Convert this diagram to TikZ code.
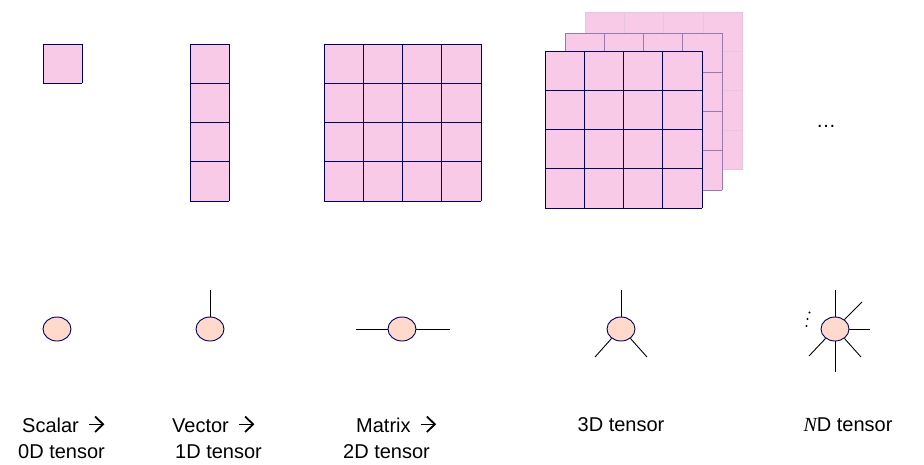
\documentclass[tikz,border=0pt]{standalone}
\usepackage{fontspec}
\setmainfont{Liberation Sans}
\newfontfamily\serifit{Liberation Serif}
\usetikzlibrary{shapes.geometric,calc}
\definecolor{cellpink}{RGB}{248,202,232}
\definecolor{navy}{RGB}{0,0,100}
\definecolor{midedge}{RGB}{152,122,176}
\definecolor{backedge}{RGB}{232,196,224}
\definecolor{peach}{RGB}{255,218,204}
\tikzset{
  frontline/.style={draw=navy,line width=0.9pt},
  midline/.style={draw=midedge,line width=0.9pt},
  backline/.style={draw=backedge,line width=0.7pt},
  tnode/.style={ellipse,draw=navy,fill=peach,line width=0.9pt,minimum width=28pt,minimum height=24pt,inner sep=0pt},
  leg/.style={draw=black,line width=0.9pt},
  lbl/.style={font=\fontsize{20}{28}\selectfont,inner sep=0pt},
  arr/.style={draw=black,line width=1.8pt,line cap=butt,line join=miter}
}
% grid: x0, y0, cols, rows, cell, style
\newcommand{\cellgrid}[6]{%
  \fill[cellpink] (#1,#2) rectangle ++(#3*#5,#4*#5);
  \foreach \k in {0,...,#3} \draw[#6] (#1+\k*#5,#2) -- ++(0,#4*#5);
  \foreach \k in {0,...,#4} \draw[#6] (#1,#2+\k*#5) -- ++(#3*#5,0);
}
\begin{document}
\begin{tikzpicture}[x=1pt,y=-1pt]
\useasboundingbox (0,0) rectangle (924,464);
% scalar
\cellgrid{43}{44}{1}{1}{39.25}{frontline}
% vector
\cellgrid{190}{44}{1}{4}{39.25}{frontline}
% matrix
\cellgrid{324}{44}{4}{4}{39.25}{frontline}
% 3D tensor
\cellgrid{585}{12}{4}{4}{39.4}{backline}
\cellgrid{565}{33}{4}{4}{39.25}{midline}
\cellgrid{545}{51}{4}{4}{39.25}{frontline}
% dots
\node[lbl] (dots) at (826,126) {…};
% tensor network nodes
\node[tnode] (s0) at (57,329) {};
\node[tnode] (s1) at (210,329) {};
\node[tnode] (s2) at (402,329) {};
\node[tnode] (s3) at (621,329) {};
\node[tnode] (s4) at (835,329) {};
\coordinate (v1) at (210,290);
\coordinate (m1) at (356,329);
\coordinate (m2) at (450,329);
\coordinate (t1) at (621,290);
\coordinate (t2) at (595,357);
\coordinate (t3) at (647,357);
\coordinate (n1) at (835,290);
\coordinate (n2) at (835,372);
\coordinate (n3) at (870,329);
\coordinate (n4) at (862,302);
\coordinate (n5) at (861,357);
\coordinate (n6) at (809,356);
\draw[leg] (s1.north) -- (v1);
\draw[leg] (s2.west) -- (m1);
\draw[leg] (s2.east) -- (m2);
\draw[leg] (s3.north) -- (t1);
\draw[leg] (s3.-135) -- (t2);
\draw[leg] (s3.-45) -- (t3);
\draw[leg] (s4.north) -- (n1);
\draw[leg] (s4.south) -- (n2);
\draw[leg] (s4.east) -- (n3);
\draw[leg] (s4.45) -- (n4);
\draw[leg] (s4.-45) -- (n5);
\draw[leg] (s4.-135) -- (n6);
\fill (809.5,312.5) circle (1.1);
\fill (807.5,319) circle (1.1);
\fill (806.5,326) circle (1.1);
% labels
\node[lbl,anchor=base west] (l0a) at (22,432) {Scalar};
\node[lbl,anchor=base west] (l0b) at (18,458) {0D tensor};
\node[lbl,anchor=base west] (l1a) at (172,432) {Vector};
\node[lbl,anchor=base west] (l1b) at (175,458) {1D tensor};
\node[lbl,anchor=base west] (l2a) at (356,432) {Matrix};
\node[lbl,anchor=base west] (l2b) at (343,458) {2D tensor};
\node[lbl,anchor=base] (l3) at (621,431) {3D tensor};
\node[lbl,anchor=base] (l4) at (848,431) {{\serifit\itshape N}D tensor};
\foreach \n in {l0a,l1a,l2a}{
  \coordinate (a) at (\n.base east);
  \draw[arr] ($(a)+(10,-7.5)$) -- ++(14.5,0);
  \draw[arr] ($(a)+(16,-15.5)$) -- ++(8,7.75) -- ++(-8,7.75);
}
\end{tikzpicture}
\end{document}
